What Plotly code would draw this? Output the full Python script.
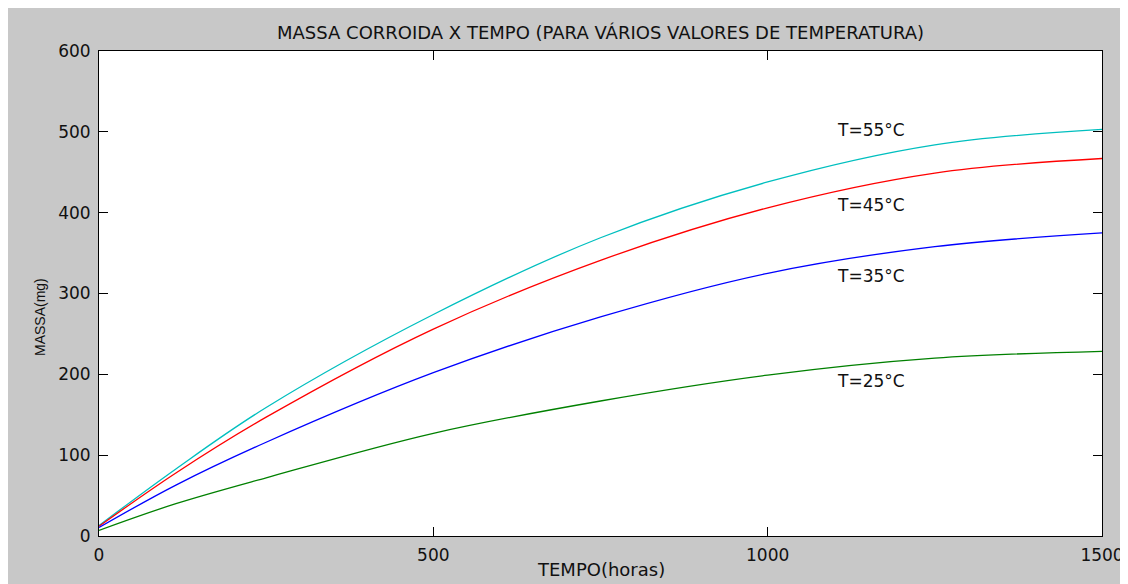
import plotly.graph_objects as go

# Time (hours) sample points
tempo = [0, 115, 250, 500, 750, 1000, 1250, 1500]

# Corroded mass (mg) per temperature
massa_55 = [13, 83, 159, 274, 369, 438, 484, 503]
massa_45 = [12, 78, 147, 256, 341, 406, 449, 467]
massa_35 = [10.5, 63, 116, 202, 271, 325, 358, 375]
massa_25 = [7, 40, 72, 127, 167, 199, 220, 228.5]

series_names = ["T=55°C", "T=45°C", "T=35°C", "T=25°C"]
series_values = [massa_55, massa_45, massa_35, massa_25]
series_colors = ["#00BFBF", "#FF0000", "#0000FF", "#008000"]

# label anchor positions (data coords)
label_x = [1100, 1100, 1100, 1100]
label_y = [502, 409, 322, 192]

x_ticks = [0, 500, 1000, 1500]
y_ticks = [0, 100, 200, 300, 400, 500, 600]

fig = go.Figure()
for name, vals, col in zip(series_names, series_values, series_colors):
    fig.add_trace(go.Scatter(x=tempo, y=vals, mode="lines", name=name,
                             line=dict(color=col, width=1.3, shape="spline", smoothing=1.0),
                             showlegend=False))

wide_font = "DejaVu Sans, Verdana, sans-serif"
for name, lx, ly in zip(series_names, label_x, label_y):
    fig.add_annotation(x=lx, y=ly, text=name, showarrow=False, xanchor="left",
                       yanchor="middle", font=dict(family=wide_font, size=17, color="#111111"))

# figure is placed at page offset (8, 8) by the browser body margin
L, T = 91, 43
PW, PH = 1003, 485
W, H = 1128, 584
R = W - L - PW
B = H - T - PH
OX, OY = 8, 8


def px_to_paper_x(px):
    return (px - OX - L) / PW


def px_to_paper_y(py):
    return (T + PH - (py - OY)) / PH


axis_common = dict(showgrid=False, zeroline=False, showline=True, linecolor="#000000",
                   linewidth=1, mirror="ticks", ticks="inside", ticklen=9,
                   tickcolor="#000000", ticklabelstandoff=4,
                   tickfont=dict(family=wide_font, size=17, color="#111111"))

fig.update_layout(
    width=W, height=H,
    margin=dict(l=L, r=R, t=T, b=B, pad=0),
    paper_bgcolor="#C8C8C8",
    plot_bgcolor="#FFFFFF",
    font=dict(family=wide_font, color="#111111"),
    xaxis=dict(range=[0, 1500], tickvals=x_ticks, ticktext=[str(v) for v in x_ticks],
               **axis_common),
    yaxis=dict(range=[0, 600], tickvals=y_ticks, ticktext=[str(v) for v in y_ticks],
               **axis_common),
)

# title and axis titles
fig.add_annotation(xref="paper", yref="paper", x=0.5, y=px_to_paper_y(33),
                   text="MASSA CORROIDA X TEMPO (PARA VÁRIOS VALORES DE TEMPERATURA)",
                   showarrow=False, xanchor="center", yanchor="middle",
                   font=dict(family=wide_font, size=18, color="#111111"))
fig.add_annotation(xref="paper", yref="paper", x=0.5, y=px_to_paper_y(569),
                   text="TEMPO(horas)", showarrow=False, xanchor="center", yanchor="middle",
                   font=dict(family=wide_font, size=18, color="#111111"))
fig.add_annotation(xref="paper", yref="paper", x=px_to_paper_x(40), y=px_to_paper_y(317),
                   text="MASSA(mg)", showarrow=False, textangle=-90,
                   xanchor="center", yanchor="middle",
                   font=dict(family="Liberation Sans, Arial, sans-serif", size=14, color="#111111"))

fig.write_html("out.html")
